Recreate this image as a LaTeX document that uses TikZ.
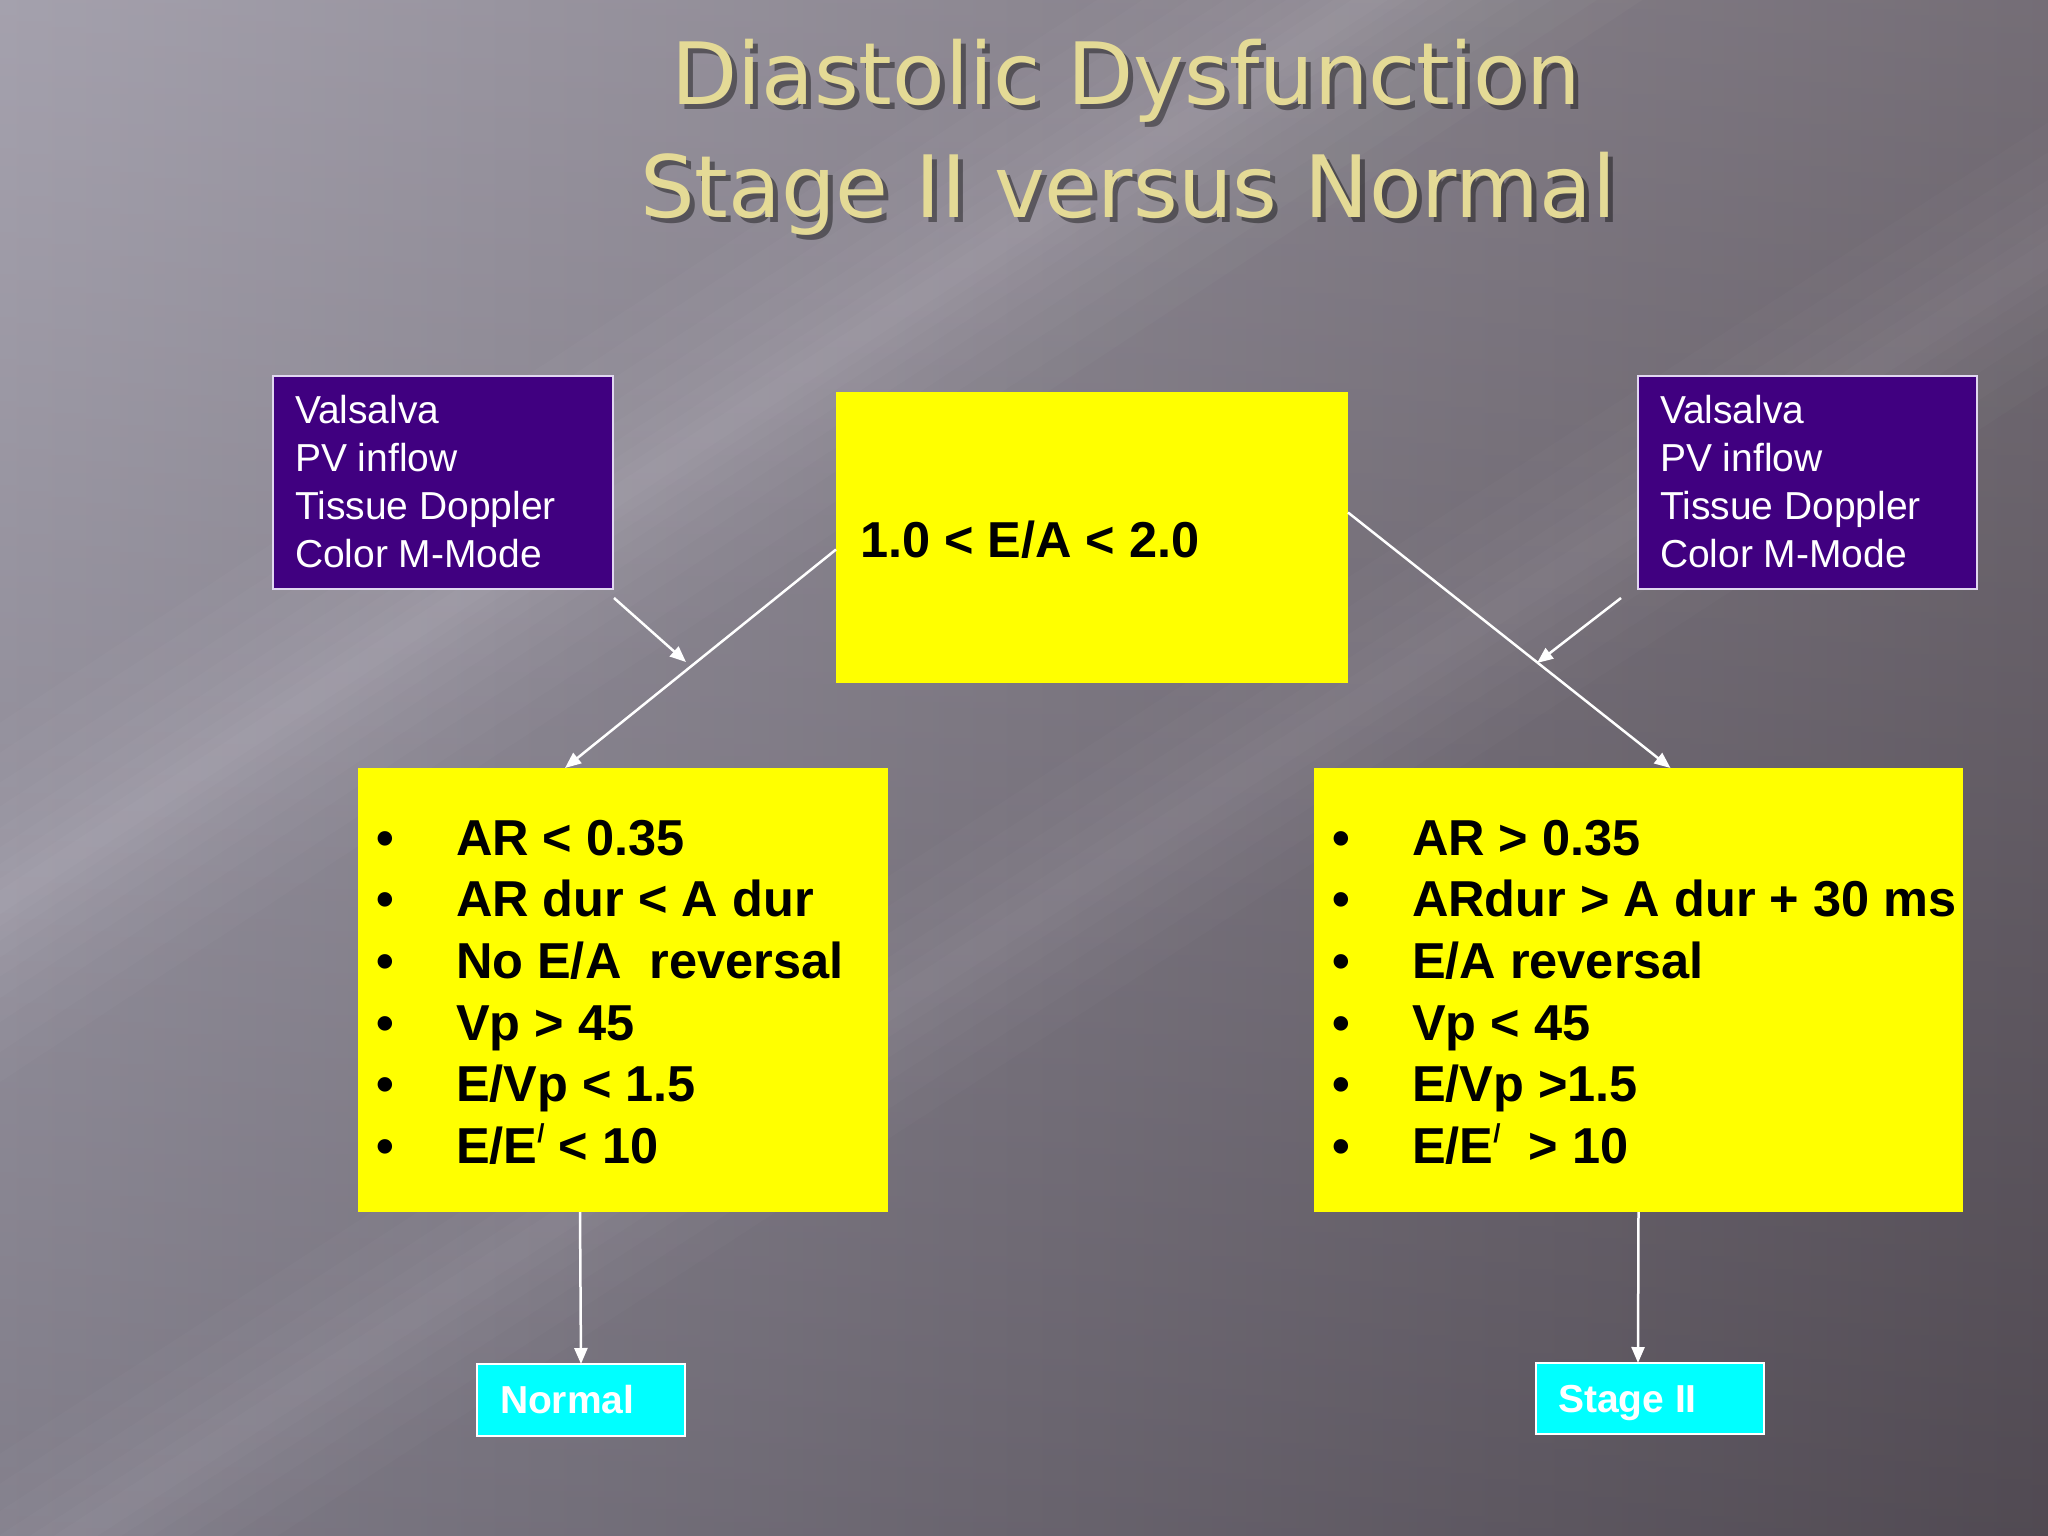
\documentclass[tikz,border=0pt]{standalone}
\usepackage{fontspec}
\setmainfont{Liberation Sans}
\newfontfamily\titlefont{DejaVu Sans}
\usetikzlibrary{arrows.meta,calc}
\definecolor{boxpurple}{RGB}{64,0,128}
\definecolor{boxyellow}{RGB}{255,255,0}
\definecolor{boxcyan}{RGB}{0,255,255}
\definecolor{titlecol}{RGB}{228,218,150}
\definecolor{boxedge}{RGB}{225,215,240}
\definecolor{bgleft}{RGB}{150,146,160}
\definecolor{bgright}{RGB}{94,86,96}
\tikzset{
  every node/.style={inner sep=0pt, outer sep=0pt},
  boxbase/.style={rectangle, anchor=north west},
  purplebox/.style={boxbase, draw=boxedge, line width=2pt, fill=boxpurple},
  yellowbox/.style={boxbase, fill=boxyellow},
  cyanbox/.style={boxbase, draw=white, line width=2pt, fill=boxcyan},
  purpletext/.style={anchor=base west, text=white, font=\fontsize{39}{48}\selectfont},
  bullettext/.style={anchor=base west, text=black, font=\bfseries\fontsize{50.5}{60}\selectfont},
  resulttext/.style={anchor=base west, text=white, font=\bfseries\fontsize{39}{46}\selectfont},
  titletext/.style={anchor=base, text=titlecol, font=\titlefont\fontsize{86}{100}\selectfont},
  titleshadow/.style={anchor=base, text=black, opacity=0.4, font=\titlefont\fontsize{86}{100}\selectfont},
  conn/.style={draw=white, line width=2.5pt, -{Triangle[length=16pt,width=13pt]}}
}
\newcommand{\eprime}{E/E\raisebox{0.42em}{\fontsize{26}{26}\selectfont /}}
\begin{document}
\begin{tikzpicture}[x=1pt,y=-1pt]
\useasboundingbox (0,0) rectangle (2048,1536);
% background
\shade[left color=bgleft, right color=bgright] (0,0) rectangle (2048,1536);
\shade[top color=white, bottom color=black, opacity=0.14] (0,0) rectangle (2048,1536);
\coordinate (a1) at (-300,1100);
\coordinate (a2) at (2420,-692);
\coordinate (b1) at (-100,1650);
\coordinate (b2) at (2700,-170);
\begin{scope}
\clip (0,0) rectangle (2048,1536);
\foreach \w in {150,125,100,80,62,46,32,20,10} {
  \fill[white,opacity=0.022] ($(a1)!\w pt!90:(a2)$) -- ($(a2)!\w pt!-90:(a1)$) -- ($(a2)!\w pt!90:(a1)$) -- ($(a1)!\w pt!-90:(a2)$) -- cycle;
}
\foreach \w in {110,85,62,42,25,12} {
  \fill[white,opacity=0.018] ($(b1)!\w pt!90:(b2)$) -- ($(b2)!\w pt!-90:(b1)$) -- ($(b2)!\w pt!90:(b1)$) -- ($(b1)!\w pt!-90:(b2)$) -- cycle;
}
\end{scope}
% title
\node[titleshadow] (t1s) at (1131,110) {Diastolic Dysfunction};
\node[titleshadow] (t2s) at (1133,222) {Stage II versus Normal};
\node[titletext] (t1) at (1126,105) {Diastolic Dysfunction};
\node[titletext] (t2) at (1128,217) {Stage II versus Normal};
% boxes
\node[purplebox, minimum width=340pt, minimum height=213pt] (lp) at (273,376) {};
\node[purplebox, minimum width=339pt, minimum height=213pt] (rp) at (1638,376) {};
\node[yellowbox, minimum width=512pt, minimum height=291pt] (c) at (836,392) {};
\node[yellowbox, minimum width=530pt, minimum height=444pt] (l) at (358,768) {};
\node[yellowbox, minimum width=649pt, minimum height=444pt] (r) at (1314,768) {};
\node[cyanbox, minimum width=208pt, minimum height=72pt] (n) at (477,1364) {};
\node[cyanbox, minimum width=228pt, minimum height=71pt] (s) at (1536,1363) {};
% purple box texts
\foreach \t [count=\i] in {Valsalva, PV inflow, Tissue Doppler, Color M-Mode} {
  \node[purpletext] (lpt\i) at (295,{423+48*(\i-1)}) {\t};
  \node[purpletext] (rpt\i) at (1660,{423+48*(\i-1)}) {\t};
}
% center text
\node[bullettext] (ct) at (860,557) {1.0 < E/A < 2.0};
% bullets
\foreach \i in {1,...,6} {
  \node[bullettext] (lb\i) at (376,{855+61.7*(\i-1)}) {\textbullet};
  \node[bullettext] (rb\i) at (1332,{855+61.7*(\i-1)}) {\textbullet};
}
\node[bullettext] (l1) at (456,855) {AR < 0.35};
\node[bullettext] (l2) at (456,916.7) {AR dur < A dur};
\node[bullettext] (l3) at (456,978.4) {No E/A\ \ reversal};
\node[bullettext] (l4) at (456,1040.1) {Vp > 45};
\node[bullettext] (l5) at (456,1101.8) {E/Vp < 1.5};
\node[bullettext] (l6) at (456,1163.5) {\eprime{} < 10};
\node[bullettext] (r1) at (1412,855) {AR > 0.35};
\node[bullettext] (r2) at (1412,916.7) {ARdur > A dur + 30 ms};
\node[bullettext] (r3) at (1412,978.4) {E/A reversal};
\node[bullettext] (r4) at (1412,1040.1) {Vp < 45};
\node[bullettext] (r5) at (1412,1101.8) {E/Vp >1.5};
\node[bullettext] (r6) at (1412,1163.5) {\eprime{}\ \ > 10};
% result texts
\node[resulttext] (nt) at (500,1413) {Normal};
\node[resulttext] (st) at (1558,1412) {Stage II};
% connectors
\draw[conn] ([yshift=-12pt]c.west) -- ([xshift=-58pt]l.north);
\draw[conn] ([yshift=25pt]c.east) -- ([xshift=32pt]r.north);
\coordinate (lptip) at (686,662);
\coordinate (rptip) at (1537,663);
\draw[conn] ([xshift=1pt,yshift=-9pt]lp.south east) -- (lptip);
\draw[conn] ([xshift=-17pt,yshift=-9pt]rp.south west) -- (rptip);
\draw[conn] ([xshift=-43pt]l.south) -- (n.north);
\draw[conn] (r.south) -- ([xshift=-12pt]s.north);
\end{tikzpicture}
\end{document}
